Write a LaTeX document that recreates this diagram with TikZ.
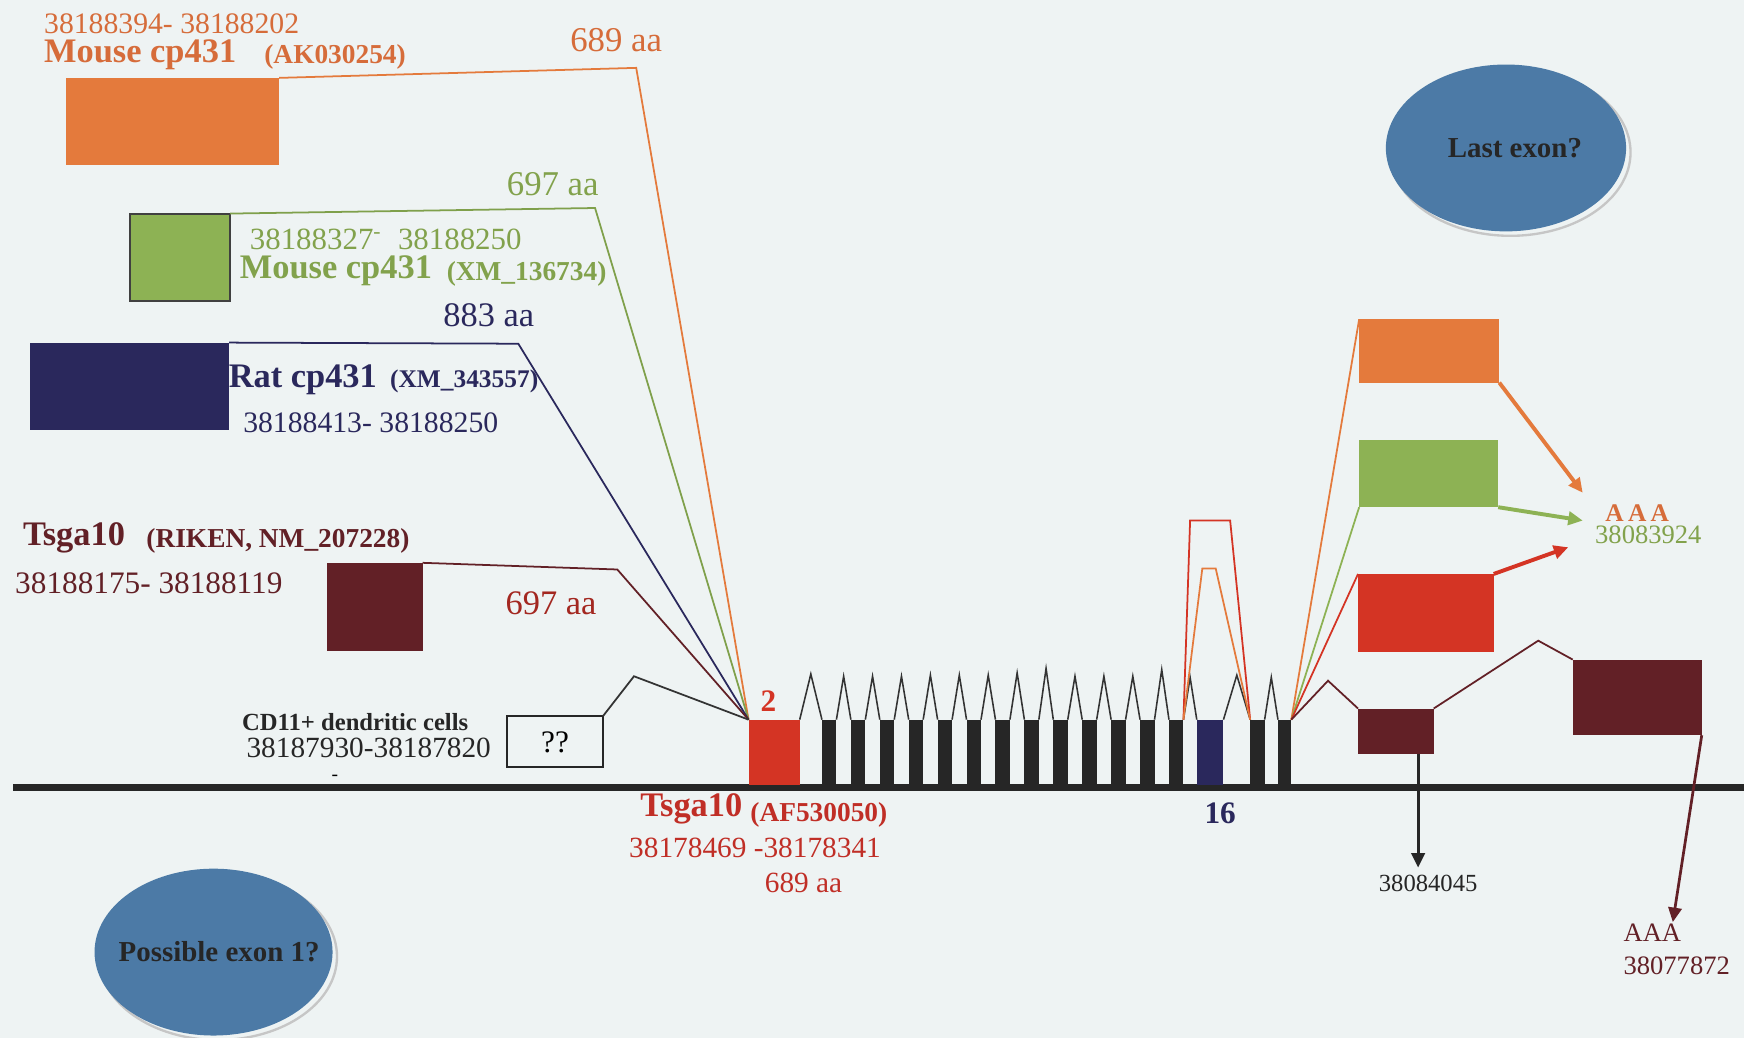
\documentclass[tikz,border=0pt]{standalone}
\usepackage{fontspec}
\setmainfont{Liberation Serif}
\usetikzlibrary{arrows.meta,calc}
\definecolor{orng}{RGB}{228,122,60}
\definecolor{orngtxt}{RGB}{214,108,58}
\definecolor{grn}{RGB}{141,178,84}
\definecolor{grntxt}{RGB}{130,162,76}
\definecolor{nvy}{RGB}{42,40,92}
\definecolor{mrn}{RGB}{98,32,38}
\definecolor{rd}{RGB}{212,52,36}
\definecolor{rdtxt}{RGB}{192,46,38}
\definecolor{stl}{RGB}{76,122,166}
\definecolor{bgc}{RGB}{238,243,243}
\newcommand{\fsz}[1]{\fontsize{#1}{#1}\selectfont}
\newcommand{\exonbox}[6]{\node[exbox,fill=#6,minimum width={(#4-#2)*0.1mm},minimum height={(#5-#3)*0.1mm}] (#1) at (#2,#3) {};}

\begin{document}
\begin{tikzpicture}[x=0.1mm,y=-0.1mm,
  exbox/.style={inner sep=0pt,outer sep=0pt,anchor=north west},
  lbl/.style={inner sep=0pt,anchor=west},
  ttl/.style={lbl,font=\fsz{8.8}\bfseries},
  acc/.style={lbl,font=\fsz{7}\bfseries},
  cn/.style={line width=0.45pt},
  intr/.style={line width=0.4pt,black!80},
  tip/.style={-{Triangle[length=1.3mm,width=1.2mm]}},
  oval/.style={fill=stl},
  ovshadow/.style={gray!45,line width=0.6pt},
  ovtext/.style={font=\fsz{7.4}\bfseries,text=black!85}]
 \fill[bgc] (0,0) rectangle (1568,933);
 \useasboundingbox (0,0) rectangle (1568,933);
 % genomic axis
 \coordinate (axl) at (12,708); \coordinate (axr) at (1568,708);
 \draw[line width=1.8pt,black!85] (axl) -- (axr);
 % exons of the gene
 \exonbox{e2}{673}{647}{719}{706}{rd}
 \foreach \k in {3,...,15}{\pgfmathsetmacro\xl{739+26*(\k-3)}\exonbox{e\k}{\xl}{647}{\xl+13}{706}{black!85}}
 \exonbox{e16}{1076}{647}{1100}{706}{nvy}
 \exonbox{e17}{1124}{647}{1137}{706}{black!85}
 \exonbox{e18}{1149}{647}{1161}{706}{black!85}
 \foreach \a/\b/\h in {2/3/606,3/4/608,4/5/608,5/6/608,6/7/607,7/8/607,8/9/607,9/10/605,10/11/601,11/12/608,12/13/608,13/14/608,14/15/602,15/16/609,16/17/607,17/18/609}
   \draw[intr] let \p1=(e\a.north east),\p2=(e\b.north west),\p3=(0,\h) in (\p1) -- ({(\x1+\x2)/2},\y3) -- (\p2);
 \draw[cn,rd] (e15.north east) -- (1070,468) -- (1106,468) -- (e17.north west);
 \draw[cn,orng] (e15.north east) -- (1081,511) -- (1093,511) -- (e17.north west);
 \node[font=\fsz{8}\bfseries,text=rd] (n2) at (691,630) {2};
 \node[font=\fsz{8}\bfseries,text=nvy] (n16) at (1097,731) {16};

 % upstream first exons
 \exonbox{orL}{59}{70}{251}{148}{orng}
 \exonbox{gnL}{117}{192}{207}{271}{grn}
 \draw[black!75,line width=0.5pt] (gnL.south west) rectangle (gnL.north east);
 \exonbox{nvL}{27}{308}{206}{387}{nvy}
 \exonbox{mrL}{294}{506}{380}{585}{mrn}
 \node[exbox,draw=black!85,line width=0.5pt,minimum width=8.6mm,minimum height=4.6mm,font=\fsz{8}] (qq) at (456,644) {??};
 \draw[cn,orng] (orL.north east) -- (572,61) -- (e2.north west);
 \draw[cn,grn!90!black] (gnL.north east) -- (535,187) -- (e2.north west);
 \draw[cn,nvy] (nvL.north east) -- (466,309) -- (e2.north west);
 \draw[cn,mrn] (mrL.north east) -- (555,512) -- (e2.north west);
 \draw[cn,black!80] (qq.north east) -- (570,608) -- (e2.north west);

 \node[lbl,font=\fsz{7.6},text=orngtxt] (c1) at (39,21) {38188394- 38188202};
 \node[ttl,text=orngtxt] (t1) at (39,49) {Mouse cp431};
 \node[acc,text=orngtxt] (a1) at (237,51) {(AK030254)};
 \node[lbl,font=\fsz{8.9},text=orngtxt] (aa1) at (512,36) {689 aa};
 \node[lbl,font=\fsz{8.9},text=grntxt] (aa2) at (455,166) {697 aa};
 \node[lbl,font=\fsz{7.9},text=grntxt] (c2) at (224,215) {38188327\textsuperscript{-}\ \ 38188250};
 \node[ttl,text=grntxt] (t2) at (215,243) {Mouse cp431};
 \node[acc,text=grntxt] (a2) at (401,246) {(XM\_136734)};
 \node[lbl,font=\fsz{8.8},text=nvy] (aa3) at (398,283) {883 aa};
 \node[ttl,text=nvy] (t3) at (205,341) {Rat cp431};
 \node[acc,font=\fsz{6.5}\bfseries,text=nvy] (a3) at (350,343) {(XM\_343557)};
 \node[lbl,font=\fsz{7.6},text=nvy] (c3) at (218,380) {38188413- 38188250};
 \node[ttl,text=mrn] (t4) at (20,484) {Tsga10};
 \node[acc,text=mrn] (a4) at (131,486) {(RIKEN, NM\_207228)};
 \node[lbl,font=\fsz{8},text=mrn] (c4) at (13,524) {38188175- 38188119};
 \node[lbl,font=\fsz{8.8},text=rdtxt!85!black] (aa4) at (454,542) {697 aa};
 \node[lbl,font=\fsz{6.3}\bfseries,text=black!85] (t5) at (217,649) {CD11+ dendritic cells};
 \node[lbl,font=\fsz{7.5},text=black!85] (c5) at (221,672) {38187930-38187820};
 \node[font=\fsz{5},inner sep=0pt] (dash) at (301,699) {-};

 % gene label
 \node[ttl,text=rdtxt] (t6) at (575,727) {Tsga10};
 \node[acc,text=rdtxt] (a6) at (674,733) {(AF530050)};
 \node[lbl,font=\fsz{7.5},text=rdtxt] (c6) at (565,762) {38178469 -38178341};
 \node[lbl,font=\fsz{7.5},text=rdtxt] (aa6) at (687,794) {689 aa};

 % downstream last exons
 \exonbox{orR}{1222}{287}{1348}{344}{orng}
 \exonbox{gnR}{1222}{396}{1347}{456}{grn}
 \exonbox{rdR}{1221}{516}{1343}{586}{rd}
 \exonbox{mrS}{1221}{637}{1289}{678}{mrn}
 \exonbox{mrB}{1414}{593}{1530}{661}{mrn}
 \draw[cn,orng] (e18.north east) -- (orR.north west);
 \draw[cn,grn] (e18.north east) -- (gnR.south west);
 \draw[cn,rd] (e18.north east) -- (rdR.north west);
 \draw[cn,mrn] (e18.north east) -- (1194,612) -- (mrS.north west);
 \draw[cn,mrn] (mrS.north east) -- (1383,576) -- (mrB.north west);
 \coordinate (pa1) at (1423,443); \coordinate (pa2) at (1423,468);
 \coordinate (pa3) at (1410,492); \coordinate (end1) at (1275,780);
 \coordinate (pa4) at (1504,829);
 \draw[tip,orng,line width=1pt] (orR.south east) -- (pa1);
 \draw[tip,grn,line width=1pt] (gnR.south east) -- (pa2);
 \draw[tip,rd,line width=1pt] (rdR.north east) -- (pa3);
 \draw[tip,black!85,line width=0.8pt] (mrS.south -| end1) -- (end1);
 \draw[tip,mrn,line width=0.7pt] (mrB.south east) -- (pa4);
 \node[font=\fsz{6.5}\bfseries,text=orngtxt] (aaa1) at (1472,461) {A\,A\,A};
 \node[font=\fsz{6.8},text=grntxt] (p1) at (1482,481) {38083924};
 \node[font=\fsz{6.3},text=black!85] (p2) at (1284,794) {38084045};
 \node[lbl,font=\fsz{6.8},text=mrn] (aaa2) at (1459,839) {AAA};
 \node[lbl,font=\fsz{6.8},text=mrn] (p3) at (1459,868) {38077872};

 % open questions
 \draw[ovshadow] (1358,137) ellipse [x radius=10.8mm,y radius=7.5mm];
 \fill[oval] (1354,133) ellipse [x radius=10.8mm,y radius=7.5mm];
 \node[ovtext] (last) at (1362,133) {Last exon?};
 \draw[ovshadow] (196,860) ellipse [x radius=10.7mm,y radius=7.5mm];
 \fill[oval] (192,856) ellipse [x radius=10.7mm,y radius=7.5mm];
 \node[ovtext] (first) at (197,856) {Possible exon 1?};
\end{tikzpicture}
\end{document}
